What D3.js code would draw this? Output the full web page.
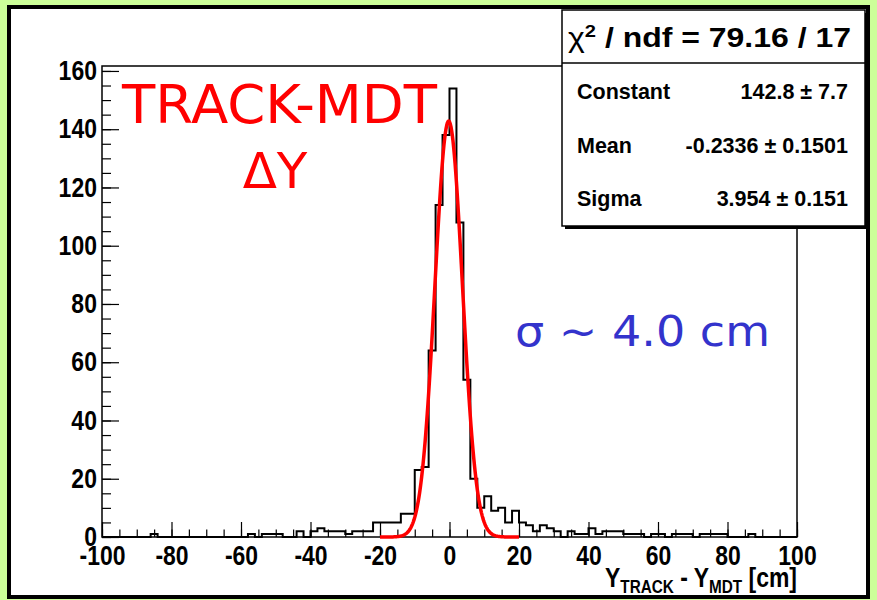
<!DOCTYPE html>
<html>
<head>
<meta charset="utf-8">
<script src="https://cdn.jsdelivr.net/npm/d3@7"></script>
<style>
  body { margin: 0; background: #ccff99; }
  svg { display: block; }
</style>
</head>
<body>
<svg id="chart"></svg>
<script>
const WIDTH = 877;
const HEIGHT = 600;

// histogram: 100 bins of width 2 cm from -100 to 100 (lower edges)
const binEdges = d3.range(-100, 100, 2);
const binWidth = 2;
const counts = [
  0, 0, 0, 0, 0, 0, 0, 1, 0, 0,
  0, 0, 0, 0, 0, 0, 0, 0, 0, 0,
  0, 1, 0, 1, 1, 1, 0, 0, 2, 0,
  2, 3, 2, 2, 2, 1, 2, 2, 2, 5,
  5, 5, 5, 8, 8, 23, 24, 64, 114, 138,
  154, 108, 54, 20, 10, 14, 9, 10, 5, 9,
  5, 4, 2, 4, 3, 2, 0, 2, 1, 1,
  3, 1, 2, 2, 2, 1, 1, 1, 0, 1,
  1, 0, 1, 1, 1, 0, 1, 1, 1, 1,
  0, 0, 0, 1, 0, 0, 0, 0, 0, 0,
];

// gaussian fit shown in the stats box
const fitNames = ["Constant", "Mean", "Sigma"];
const fitValues = ["142.8 \u00b1 7.7", "-0.2336 \u00b1 0.1501", "3.954 \u00b1 0.151"];
const fitParams = [142.8, -0.2336, 3.954];
const fitRange = [-20, 20];

const xTicks = [-100, -80, -60, -40, -20, 0, 20, 40, 60, 80, 100];
const yTicks = [0, 20, 40, 60, 80, 100, 120, 140, 160];

const svg = d3.select("#chart").attr("width", WIDTH).attr("height", HEIGHT);

// slide background + black frame
svg.append("rect").attr("width", WIDTH).attr("height", HEIGHT).attr("fill", "#ccff99");
svg.append("rect")
  .attr("x", 9).attr("y", 7).attr("width", 859).attr("height", 590)
  .attr("fill", "#fff").attr("stroke", "#000").attr("stroke-width", 4);

const plot = { left: 102, right: 797, top: 66, bottom: 537 };

const x = d3.scaleLinear().domain([-100, 100]).range([plot.left, plot.right]);
const y = d3.scaleLinear().domain([0, 161.7]).range([plot.bottom, plot.top]);

const labelFont = "'Liberation Sans', Arial, Helvetica, sans-serif";
const plain = d => String(d); // keep ascii hyphen like ROOT

// minor ticks
svg.append("g")
  .attr("transform", `translate(0,${plot.bottom})`)
  .call(d3.axisBottom(x).tickValues(d3.range(-100, 101, 5)).tickSize(-7.5).tickFormat(""))
  .call(g => g.select(".domain").remove());
svg.append("g")
  .attr("transform", `translate(${plot.left},0)`)
  .call(d3.axisLeft(y).tickValues(d3.range(0, 161, 5)).tickSize(-9).tickFormat(""))
  .call(g => g.select(".domain").remove());

// major ticks + labels
const xAxis = svg.append("g")
  .attr("transform", `translate(0,${plot.bottom})`)
  .call(d3.axisBottom(x).tickValues(xTicks).tickFormat(plain).tickSize(-15).tickSizeOuter(0).tickPadding(9));
const yAxis = svg.append("g")
  .attr("transform", `translate(${plot.left},0)`)
  .call(d3.axisLeft(y).tickValues(yTicks).tickFormat(plain).tickSize(-17).tickSizeOuter(0).tickPadding(6));

[xAxis, yAxis].forEach(g => {
  g.select(".domain").remove();
  g.selectAll(".tick text")
    .attr("font-family", labelFont)
    .attr("font-weight", "bold")
    .attr("font-size", 27)
    .attr("fill", "#000")
    .attr("transform", "scale(0.85,1)");
});
svg.selectAll("g .tick line").attr("stroke", "#000").attr("stroke-width", 1.2);

// frame
svg.append("rect")
  .attr("x", plot.left).attr("y", plot.top)
  .attr("width", plot.right - plot.left).attr("height", plot.bottom - plot.top)
  .attr("fill", "none").attr("stroke", "#000").attr("stroke-width", 1.5);

// histogram outline
const pts = [[x(-100), y(0)]];
binEdges.forEach((e, i) => {
  pts.push([x(e), y(counts[i])]);
  pts.push([x(e + binWidth), y(counts[i])]);
});
pts.push([x(100), y(0)]);
svg.append("path")
  .attr("d", d3.line()(pts))
  .attr("fill", "none").attr("stroke", "#000").attr("stroke-width", 2);

// fit curve
const [A, mu, sg] = fitParams;
const fitPts = d3.range(fitRange[0], fitRange[1] + 0.001, 0.2)
  .map(v => [x(v), y(A * Math.exp(-0.5 * ((v - mu) / sg) ** 2))]);
svg.append("path")
  .attr("d", d3.line()(fitPts))
  .attr("fill", "none").attr("stroke", "#ff0000").attr("stroke-width", 3.5)
  .attr("stroke-linejoin", "round");

// axis title
const title = svg.append("text")
  .attr("transform", `translate(${plot.right},587) scale(0.85,1)`)
  .attr("text-anchor", "end")
  .attr("font-family", labelFont).attr("font-weight", "bold").attr("font-size", 27);
title.append("tspan").text("Y");
title.append("tspan").attr("font-size", 18).attr("dy", 6).text("TRACK");
title.append("tspan").attr("dy", -6).text(" - Y");
title.append("tspan").attr("font-size", 18).attr("dy", 6).text("MDT");
title.append("tspan").attr("dy", -6).text(" [cm]");

// stats box
const box = { x: 562, y: 10, w: 303, h: 216, split: 63 };
svg.append("rect")
  .attr("x", box.x + 3).attr("y", box.y + 3).attr("width", box.w).attr("height", box.h)
  .attr("fill", "#000");
svg.append("rect")
  .attr("x", box.x).attr("y", box.y).attr("width", box.w).attr("height", box.h)
  .attr("fill", "#fff").attr("stroke", "#000").attr("stroke-width", 1.5);
svg.append("line")
  .attr("x1", box.x).attr("x2", box.x + box.w)
  .attr("y1", box.split).attr("y2", box.split)
  .attr("stroke", "#000").attr("stroke-width", 1.5);

const chi = svg.append("text")
  .attr("x", 568).attr("y", 47)
  .attr("font-family", labelFont).attr("font-weight", "bold").attr("font-size", 27)
  .attr("textLength", 283).attr("lengthAdjust", "spacingAndGlyphs");
chi.append("tspan").attr("font-weight", "normal").text("\u03c7");
chi.append("tspan").attr("font-size", 17).attr("dy", -10).text("2");
chi.append("tspan").attr("dy", 10).text(" / ndf = 79.16 / 17");

const rowY = [99, 153, 206];
fitNames.forEach((n, i) => {
  svg.append("text")
    .attr("x", 577).attr("y", rowY[i])
    .attr("font-family", labelFont).attr("font-weight", "bold").attr("font-size", 21.5)
    .text(n);
  svg.append("text")
    .attr("x", 848).attr("y", rowY[i]).attr("text-anchor", "end")
    .attr("font-family", labelFont).attr("font-weight", "bold").attr("font-size", 21.5)
    .text(fitValues[i]);
});

// annotations
svg.append("text")
  .attr("x", 122).attr("y", 123)
  .attr("font-family", "'DejaVu Sans', sans-serif").attr("font-size", 54)
  .attr("fill", "#ff0000")
  .attr("textLength", 315).attr("lengthAdjust", "spacingAndGlyphs")
  .text("TRACK-MDT");
svg.append("text")
  .attr("x", 275).attr("y", 188).attr("text-anchor", "middle")
  .attr("font-family", "'DejaVu Sans', sans-serif").attr("font-size", 50)
  .attr("fill", "#ff0000")
  .text("\u0394Y");
svg.append("text")
  .attr("x", 515).attr("y", 346)
  .attr("font-family", "'DejaVu Sans', sans-serif").attr("font-size", 43)
  .attr("fill", "#3333cc")
  .attr("textLength", 255).attr("lengthAdjust", "spacingAndGlyphs")
  .text("\u03c3 ~ 4.0 cm");
</script>
</body>
</html>
